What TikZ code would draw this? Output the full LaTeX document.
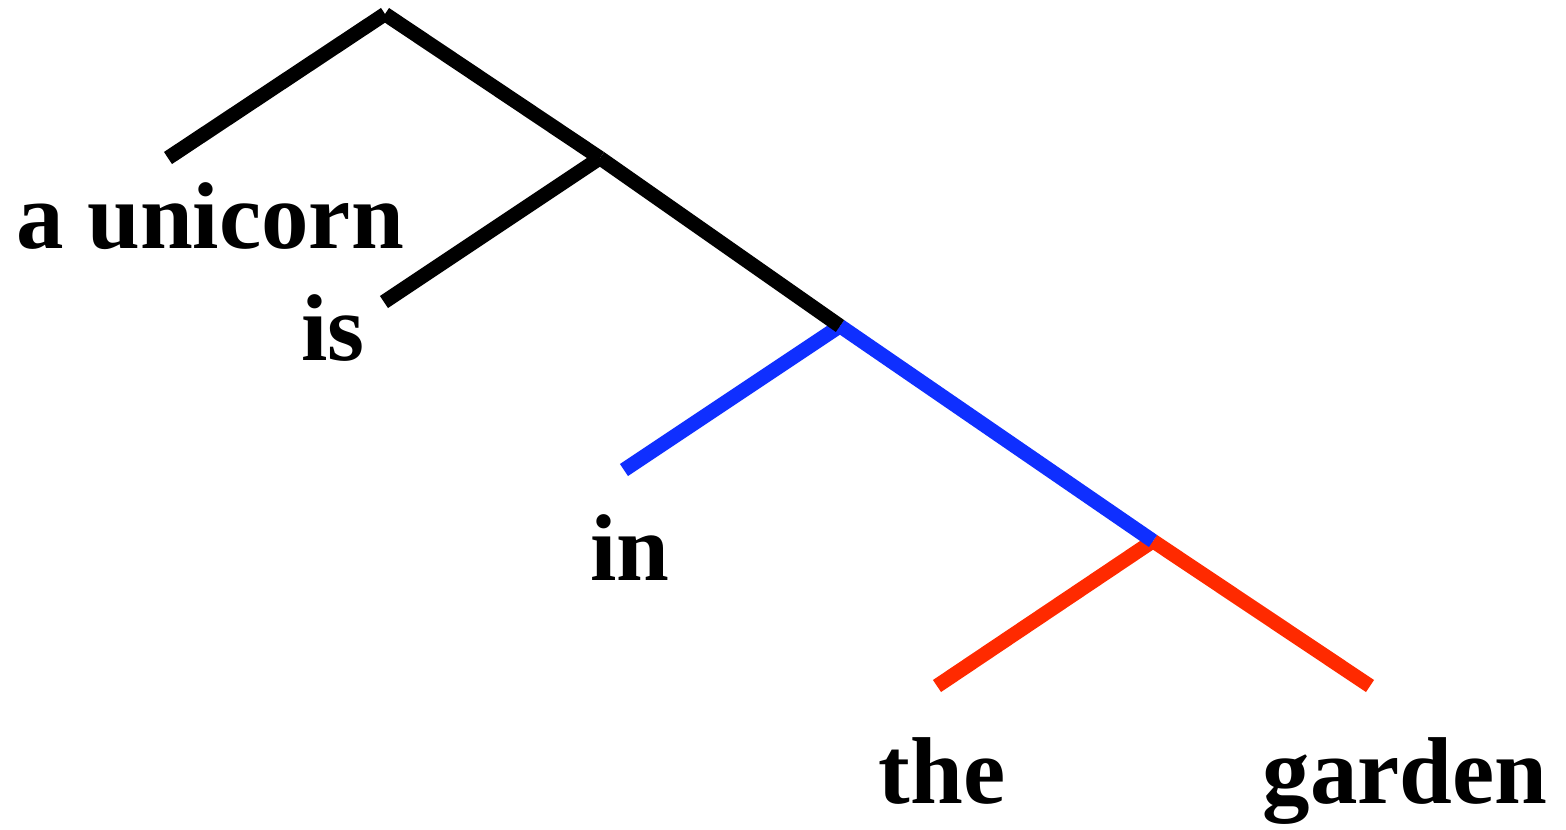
\documentclass[tikz,border=0pt]{standalone}
\usepackage{fontspec}
\setmainfont{Liberation Serif}
\definecolor{treeblue}{HTML}{0F2FFF}
\definecolor{treered}{HTML}{FF2A00}
\begin{document}
\begin{tikzpicture}[x=0.01cm,y=-0.01cm,
  branch/.style={line width=0.145cm,line cap=butt},
  word/.style={anchor=base,inner sep=0pt,font=\fontsize{27}{30}\selectfont\bfseries}]
\useasboundingbox (0,0) rectangle (1566,829);
\coordinate (root) at (385,14);
\coordinate (n2) at (600,158);
\coordinate (n3) at (840,326);
\coordinate (n4) at (1153,541);
\coordinate (l1) at (168,158);
\coordinate (l2) at (384,302);
\coordinate (l3) at (624,470);
\coordinate (l4) at (937,686);
\coordinate (l5) at (1370,686);
\node[word] (w1) at (210,248) {a unicorn};
\node[word] (w2) at (333,360) {is};
\node[word] (w3) at (630,580) {in};
\node[word] (w4) at (942,803) {the};
\node[word] (w5) at (1405,803) {garden};
% red
\draw[branch,treered] (n4) -- (l4);
\draw[branch,treered] (n4) -- (l5);
% blue
\draw[branch,treeblue] (n3) -- (l3);
\draw[branch,treeblue] (n3) -- (n4);
% black
\draw[branch] (root) -- (l1);
\draw[branch] (root) -- (n2);
\draw[branch] (n2) -- (l2);
\draw[branch] (n2) -- (n3);
\end{tikzpicture}
\end{document}
